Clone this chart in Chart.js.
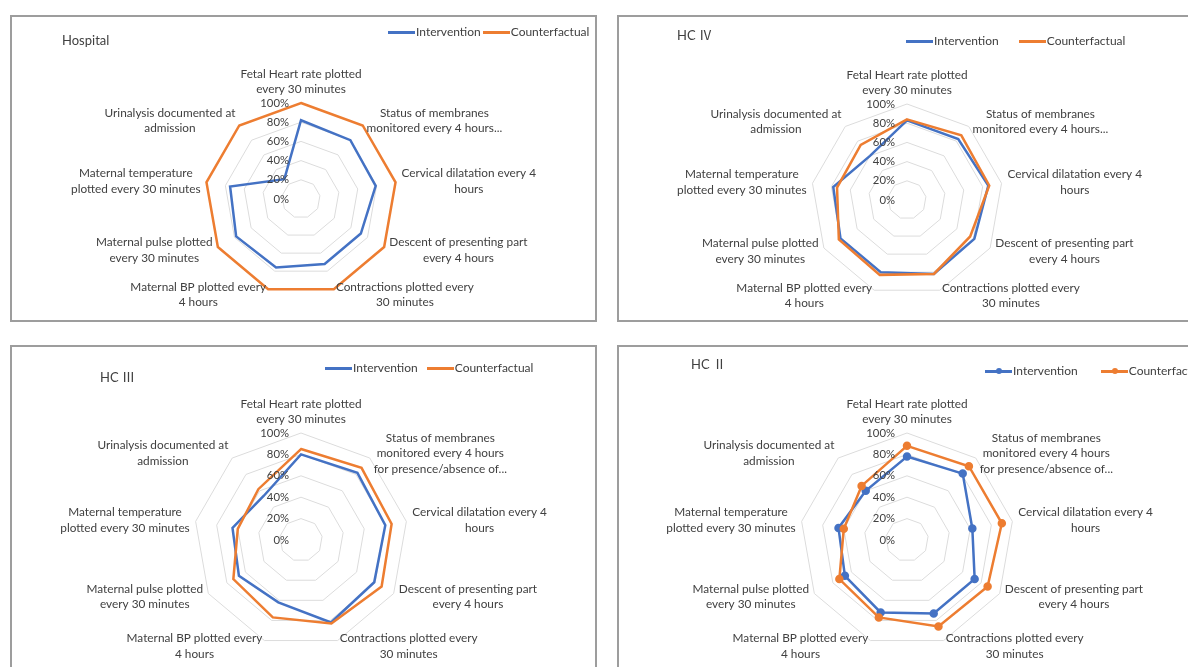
<!DOCTYPE html>
<html><head><meta charset="utf-8">
<script src="https://cdn.jsdelivr.net/npm/chart.js@4/dist/chart.umd.min.js"></script>
<style>
html,body{margin:0;padding:0;background:#fff;}
body{width:1188px;height:667px;overflow:hidden;position:relative;font-family:Lato,"Liberation Sans",sans-serif;}
.box{position:absolute;border:2px solid #9d9d9d;box-sizing:border-box;}
canvas{position:absolute;}
.ptitle{position:absolute;font-size:13px;line-height:16px;color:#404040;white-space:nowrap;}
.ptitle .num{font-family:"Noto Sans CJK JP","Noto Sans CJK SC",serif;}
.legend{position:absolute;font-size:12px;line-height:14px;color:#404040;white-space:nowrap;display:flex;align-items:center;}
.legend .item{display:flex;align-items:center;}
.legend .swatch{position:relative;width:27px;height:10px;margin-right:1px;}
.legend .ln{position:absolute;left:0;right:0;top:4px;height:2.5px;}
.legend .dot{position:absolute;left:11px;top:2px;width:6px;height:6px;border-radius:50%;}
</style></head><body>
<script>
// ---------- data ----------
const seriesNames = ["Intervention", "Counterfactual"];
const panelTitles = ["Hospital", "HC Ⅳ", "HC Ⅲ", "HC Ⅱ"];
const tickValues = [0, 20, 40, 60, 80, 100];

const categoriesShort = [
  ["Fetal Heart rate plotted", "every 30 minutes"],
  ["Status of membranes", "monitored every 4 hours..."],
  ["Cervical dilatation every 4", "hours"],
  ["Descent of presenting part", "every 4 hours"],
  ["Contractions plotted every", "30 minutes"],
  ["Maternal BP plotted every", "4 hours"],
  ["Maternal pulse plotted", "every 30 minutes"],
  ["Maternal temperature", "plotted every 30 minutes"],
  ["Urinalysis documented at", "admission"]
];
const categoriesLong = [
  ["Fetal Heart rate plotted", "every 30 minutes"],
  ["Status of membranes", "monitored every 4 hours", "for presence/absence of..."],
  ["Cervical dilatation every 4", "hours"],
  ["Descent of presenting part", "every 4 hours"],
  ["Contractions plotted every", "30 minutes"],
  ["Maternal BP plotted every", "4 hours"],
  ["Maternal pulse plotted", "every 30 minutes"],
  ["Maternal temperature", "plotted every 30 minutes"],
  ["Urinalysis documented at", "admission"]
];

const hospitalIntervention   = [82, 80, 79, 72, 72, 76, 78, 75, 27];
const hospitalCounterfactual = [100, 100, 100, 100, 100, 100, 100, 100, 100];
const hc4Intervention   = [83, 83, 86, 81, 82, 80, 80, 78, 60];
const hc4Counterfactual = [84, 88, 87, 76, 82, 83, 82, 74, 75];
const hc3Intervention   = [80, 82, 80, 79, 82, 62, 67, 65, 54];
const hc3Counterfactual = [85, 88, 86, 87, 83, 77, 73, 60, 62];
const hc2Intervention   = [78, 81, 62, 73, 73, 72, 67, 65, 60];
const hc2Counterfactual = [88, 90, 90, 87, 86, 77, 73, 60, 66];

// ---------- layout ----------
const BLUE = "#4472C4", ORANGE = "#ED7D31";
const panels = [
  {title: panelTitles[0], labels: categoriesShort, data: [hospitalIntervention, hospitalCounterfactual], markers: false,
   box: [10, 15, 587, 307], c: [301, 199], r: 96, titleXY: [62, 32], legendXY: [388, 25], legendGap: 2},
  {title: panelTitles[1], labels: categoriesShort, data: [hc4Intervention, hc4Counterfactual], markers: false,
   box: [617, 15, 590, 307], c: [907, 200], r: 96, titleXY: [677, 27], legendXY: [906, 34], legendGap: 20},
  {title: panelTitles[2], labels: categoriesLong, data: [hc3Intervention, hc3Counterfactual], markers: false,
   box: [10, 345, 587, 340], c: [301, 540], r: 107, titleXY: [100, 369], legendXY: [325, 361], legendGap: 9},
  {title: panelTitles[3], labels: categoriesLong, data: [hc2Intervention, hc2Counterfactual], markers: true,
   box: [617, 345, 590, 340], c: [907, 540], r: 107, titleXY: [691, 356], legendXY: [985, 364], legendGap: 23}
];

function textPlugin(lines) {
  return {
    id: 'radarText',
    afterDatasetsDraw(chart) {
      const s = chart.scales.r, ctx = chart.ctx;
      ctx.save();
      ctx.fillStyle = '#404040';
      ctx.font = '11.3px Lato, "Liberation Sans", sans-serif';
      ctx.textAlign = 'right';
      ctx.textBaseline = 'middle';
      s.ticks.forEach(t => {
        const d = s.getDistanceFromCenterForValue(t.value);
        ctx.fillText(t.value + '%', s.xCenter - 12, s.yCenter - d);
      });
      ctx.font = '11.8px Lato, "Liberation Sans", sans-serif';
      ctx.textAlign = 'center';
      const lh = 15.5;
      for (let i = 0; i < lines.length; i++) {
        const p = s.getPointPosition(i, s.drawingArea + 6);
        const deg = Math.round(s.getIndexAngle(i) * 180 / Math.PI);
        const L = lines[i];
        const w = Math.max(...L.map(t => ctx.measureText(t).width));
        let x, y;
        if (deg === 0) { x = p.x; y = p.y - L.length * lh / 2; }
        else if (deg < 180) { x = p.x + w / 2; y = p.y; }
        else { x = p.x - w / 2; y = p.y; }
        L.forEach((t, k) => ctx.fillText(t, x, y + (k - (L.length - 1) / 2) * lh));
      }
      ctx.restore();
    }
  };
}

panels.forEach((P, idx) => {
  const [bl, bt, bw, bh] = P.box;
  const box = document.createElement('div');
  box.className = 'box';
  Object.assign(box.style, {left: bl + 'px', top: bt + 'px', width: bw + 'px', height: bh + 'px'});
  document.body.appendChild(box);

  const cv = document.createElement('canvas');
  cv.width = bw; cv.height = bh;
  Object.assign(cv.style, {left: bl + 'px', top: bt + 'px', width: bw + 'px', height: bh + 'px'});
  document.body.appendChild(cv);

  const colors = [BLUE, ORANGE];
  const chart = new Chart(cv, {
    type: 'radar',
    data: {
      labels: P.labels.map(l => l.join(' ')),
      datasets: P.data.map((d, k) => ({
        label: seriesNames[k],
        data: d,
        borderColor: colors[k],
        backgroundColor: colors[k],
        pointBackgroundColor: colors[k],
        pointBorderColor: colors[k],
        borderWidth: 2.5,
        pointRadius: P.markers ? 3 : 0,
        pointHoverRadius: 0,
        fill: false,
        tension: 0,
        order: k === 0 ? 1 : 0
      }))
    },
    options: {
      responsive: false,
      animation: false,
      devicePixelRatio: 1,
      layout: {padding: {
        left: P.c[0] - P.r - bl,
        top: P.c[1] - P.r - bt,
        right: bw - (P.c[0] + P.r - bl),
        bottom: bh - (P.c[1] + P.r - bt)
      }},
      plugins: {legend: {display: false}, tooltip: {enabled: false}, title: {display: false}},
      scales: {
        r: {
          min: tickValues[0], max: tickValues[tickValues.length - 1],
          ticks: {display: false, stepSize: tickValues[1] - tickValues[0]},
          grid: {color: '#dcdcdc', lineWidth: 1},
          angleLines: {display: false},
          pointLabels: {display: false}
        }
      }
    },
    plugins: [textPlugin(P.labels)]
  });

  const t = document.createElement('div');
  t.className = 'ptitle';
  const m = P.title.match(/^(.*?)([\u2160-\u217F]+)?$/);
  t.appendChild(document.createTextNode(m[1]));
  if (m[2]) {
    const n = document.createElement('span');
    n.className = 'num';
    n.textContent = m[2];
    t.appendChild(n);
  }
  Object.assign(t.style, {left: P.titleXY[0] + 'px', top: P.titleXY[1] + 'px'});
  document.body.appendChild(t);

  const lg = document.createElement('div');
  lg.className = 'legend';
  Object.assign(lg.style, {left: P.legendXY[0] + 'px', top: P.legendXY[1] + 'px'});
  chart.data.datasets.forEach((ds, k) => {
    const it = document.createElement('span');
    it.className = 'item';
    if (k > 0) it.style.marginLeft = P.legendGap + 'px';
    const sw = document.createElement('span');
    sw.className = 'swatch';
    const ln = document.createElement('span');
    ln.className = 'ln'; ln.style.background = ds.borderColor;
    sw.appendChild(ln);
    if (ds.pointRadius > 0) {
      const dot = document.createElement('span');
      dot.className = 'dot'; dot.style.background = ds.borderColor;
      sw.appendChild(dot);
    }
    it.appendChild(sw);
    const tx = document.createElement('span');
    tx.textContent = ds.label;
    it.appendChild(tx);
    lg.appendChild(it);
  });
  document.body.appendChild(lg);
});
</script>
</body></html>
